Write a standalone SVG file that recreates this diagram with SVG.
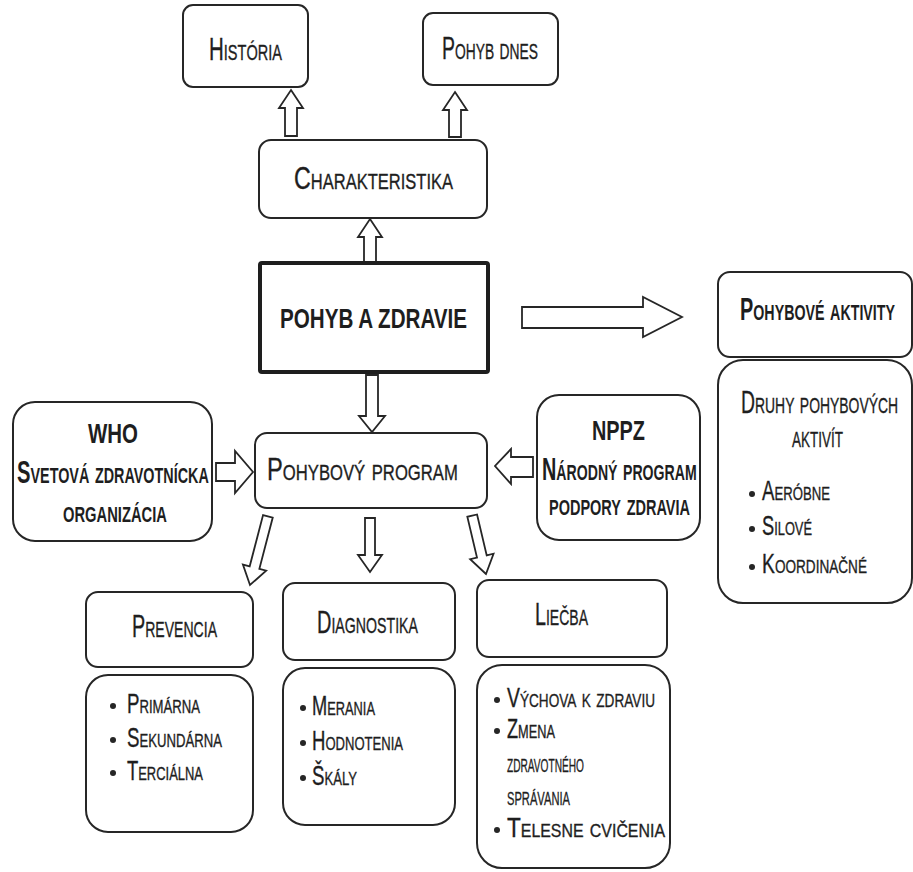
<svg xmlns="http://www.w3.org/2000/svg" width="913" height="872" viewBox="0 0 913 872">
<style>
.box{fill:#fff;stroke:#262626;stroke-width:2}
.arr{fill:#fff;stroke:#262626;stroke-width:1.8;stroke-linejoin:miter}
text{font-family:"Liberation Sans",Arial,sans-serif;fill:#1e1e1e;stroke:#1e1e1e;stroke-width:0.35;font-variant:small-caps;font-size:31px}
.b{font-weight:bold;stroke-width:0}
.l{font-size:27px}
.big{font-size:28px}
.dot{fill:#262626}
</style>
<rect width="913" height="872" fill="#fff"/>
<g id="connectors">
<polygon class="arr" points="291,90 303,108 297,108 297,136 285,136 285,108 279,108"/>
<polygon class="arr" points="455,92 467,110 461,110 461,137 449,137 449,110 443,110"/>
<polygon class="arr" points="370,219 382,237 376,237 376,262 364,262 364,237 358,237"/>
<polygon class="arr" points="366,375 378,375 378,416 385,416 372,432 359,416 366,416"/>
<polygon class="arr" points="365,518 375,518 375,555 382,555 370,572 358,555 365,555"/>
<polygon class="arr" points="522,307 643,307 643,297 682,317 643,337 643,328 522,328"/>
<polygon class="arr" points="216,463 235,463 235,451 253,472 235,493 235,481 216,481"/>
<polygon class="arr" points="533,457 511,457 511,449 495,466 511,484 511,477 533,477"/>
<polygon class="arr" transform="translate(250,585) rotate(14.6)" points="0,0 -12,-18 -5,-18 -5,-71 5,-71 5,-18 12,-18"/>
<polygon class="arr" transform="translate(486,574) rotate(-13.3)" points="0,0 -12,-18 -5,-18 -5,-60 5,-60 5,-18 12,-18"/>
</g>
<g id="historia">
<rect class="box" x="183" y="5" width="125" height="82" rx="10"/>
<text x="209" y="60" textLength="73" lengthAdjust="spacingAndGlyphs">História</text>
</g>
<g id="pohyb-dnes">
<rect class="box" x="423" y="13" width="135" height="72" rx="10"/>
<text x="442" y="59" textLength="96" lengthAdjust="spacingAndGlyphs">Pohyb dnes</text>
</g>
<g id="charakteristika">
<rect class="box" x="259" y="140" width="228" height="78" rx="12"/>
<text x="294" y="189" textLength="159" lengthAdjust="spacingAndGlyphs">Charakteristika</text>
</g>
<g id="pohyb-a-zdravie">
<rect x="260" y="263" width="228" height="109" rx="2" fill="#fff" stroke="#1e1e1e" stroke-width="4"/>
<text class="b big" x="280" y="328" textLength="187" lengthAdjust="spacingAndGlyphs">POHYB A ZDRAVIE</text>
</g>
<g id="pohybove-aktivity">
<rect class="box" x="718" y="272" width="194" height="85" rx="12"/>
<text class="b" transform="translate(740,320) scale(0.68,1)" x="0" y="0" textLength="228" lengthAdjust="spacingAndGlyphs">Pohybové aktivity</text>
</g>
<g id="druhy">
<rect class="box" x="718" y="360" width="194" height="243" rx="25"/>
<text transform="translate(741,413) scale(0.68,1)" x="0" y="0" textLength="231" lengthAdjust="spacingAndGlyphs">Druhy pohybových</text>
<text x="792" y="447" textLength="51" lengthAdjust="spacingAndGlyphs">aktivít</text>
<circle class="dot" cx="752" cy="494" r="3"/>
<text class="l" x="762" y="500" textLength="68" lengthAdjust="spacingAndGlyphs">Aeróbne</text>
<circle class="dot" cx="752" cy="529" r="3"/>
<text class="l" x="762" y="535" textLength="50" lengthAdjust="spacingAndGlyphs">Silové</text>
<circle class="dot" cx="752" cy="567" r="3"/>
<text class="l" x="762" y="573" textLength="105" lengthAdjust="spacingAndGlyphs">Koordinačné</text>
</g>
<g id="pohybovy-program">
<rect class="box" x="255" y="433" width="232" height="75" rx="12"/>
<text transform="translate(267,480) scale(0.72,1)" x="0" y="0" textLength="265" lengthAdjust="spacingAndGlyphs">Pohybový program</text>
</g>
<g id="who">
<rect class="box" x="13" y="402" width="199" height="139" rx="22"/>
<text class="b big" x="88" y="443" textLength="50" lengthAdjust="spacingAndGlyphs">WHO</text>
<text class="b" transform="translate(17,483) scale(0.7,1)" x="0" y="0" textLength="274" lengthAdjust="spacingAndGlyphs">Svetová zdravotnícka</text>
<text class="b" x="63" y="522" textLength="104" lengthAdjust="spacingAndGlyphs">organizácia</text>
</g>
<g id="nppz">
<rect class="box" x="537" y="395" width="163" height="145" rx="22"/>
<text class="b big" x="592" y="440" textLength="53" lengthAdjust="spacingAndGlyphs">NPPZ</text>
<text class="b" transform="translate(542,480) scale(0.7,1)" x="0" y="0" textLength="221" lengthAdjust="spacingAndGlyphs">Národný program</text>
<text class="b" x="549" y="515" textLength="141" lengthAdjust="spacingAndGlyphs">podpory zdravia</text>
</g>
<g id="prevencia">
<rect class="box" x="86" y="592" width="167" height="75" rx="12"/>
<text x="132" y="637" textLength="85" lengthAdjust="spacingAndGlyphs">Prevencia</text>
</g>
<g id="prevencia-list">
<rect class="box" x="86" y="675" width="167" height="157" rx="22"/>
<circle class="dot" cx="113" cy="706" r="3"/>
<text class="l" x="127" y="713" textLength="73" lengthAdjust="spacingAndGlyphs">Primárna</text>
<circle class="dot" cx="113" cy="740" r="3"/>
<text class="l" x="127" y="747" textLength="95" lengthAdjust="spacingAndGlyphs">Sekundárna</text>
<circle class="dot" cx="113" cy="773" r="3"/>
<text class="l" x="127" y="780" textLength="76" lengthAdjust="spacingAndGlyphs">Terciálna</text>
</g>
<g id="diagnostika">
<rect class="box" x="283" y="583" width="172" height="77" rx="12"/>
<text x="317" y="633" textLength="101" lengthAdjust="spacingAndGlyphs">Diagnostika</text>
</g>
<g id="diagnostika-list">
<rect class="box" x="283" y="668" width="172" height="157" rx="22"/>
<circle class="dot" cx="303" cy="708" r="3"/>
<text class="l" x="312" y="715" textLength="63" lengthAdjust="spacingAndGlyphs">Merania</text>
<circle class="dot" cx="303" cy="743" r="3"/>
<text class="l" x="312" y="750" textLength="91" lengthAdjust="spacingAndGlyphs">Hodnotenia</text>
<circle class="dot" cx="303" cy="778" r="3"/>
<text class="l" x="312" y="785" textLength="45" lengthAdjust="spacingAndGlyphs">Škály</text>
</g>
<g id="liecba">
<rect class="box" x="477" y="580" width="190" height="77" rx="12"/>
<text x="535" y="625" textLength="53" lengthAdjust="spacingAndGlyphs">Liečba</text>
</g>
<g id="liecba-list">
<rect class="box" x="477" y="665" width="193" height="203" rx="25"/>
<circle class="dot" cx="497" cy="700" r="3"/>
<text class="l" x="507" y="707" textLength="148" lengthAdjust="spacingAndGlyphs">Výchova k zdraviu</text>
<circle class="dot" cx="497" cy="731" r="3"/>
<text class="l" x="507" y="738" textLength="48" lengthAdjust="spacingAndGlyphs">Zmena</text>
<text class="l" x="507" y="772" textLength="77" lengthAdjust="spacingAndGlyphs">zdravotného</text>
<text class="l" x="507" y="805" textLength="63" lengthAdjust="spacingAndGlyphs">správania</text>
<circle class="dot" cx="497" cy="830" r="3"/>
<text class="l" x="507" y="837" textLength="158" lengthAdjust="spacingAndGlyphs">Telesne cvičenia</text>
</g>
</svg>
